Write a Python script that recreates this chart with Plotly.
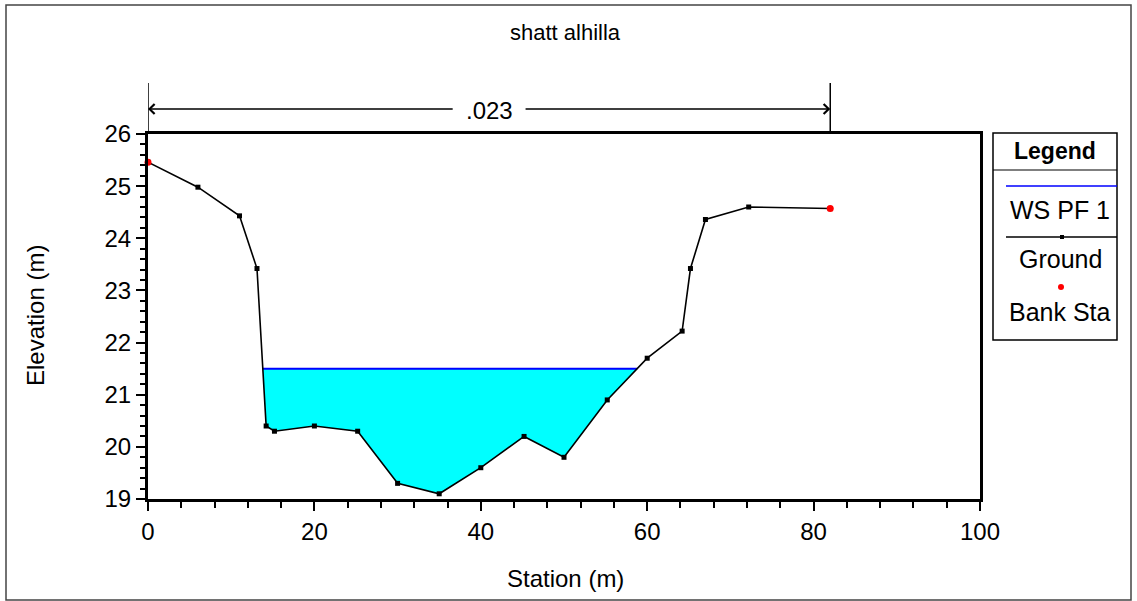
import plotly.graph_objects as go

# ---- data ----
ground_x = [0, 6, 11, 13.1, 14.2, 15.2, 20, 25.2, 30, 35, 40, 45.2, 50, 55.2, 60, 64.2, 65.2, 67, 72.2, 82]
ground_y = [25.46, 24.98, 24.43, 23.42, 20.40, 20.30, 20.40, 20.30, 19.30, 19.10, 19.60, 20.20,
            19.80, 20.90, 21.70, 22.22, 23.42, 24.36, 24.60, 24.57]
bank_x = [0, 82]
bank_y = [25.46, 24.57]
ws_elev = 21.5
n_value_label = ".023"
title_text = "shatt alhilla"
x_title = "Station (m)"
y_title = "Elevation (m)"
legend_items = ["WS PF 1", "Ground", "Bank Sta"]

# ---- geometry of the page (pixels) ----
W, H = 1137, 601
PL, PR, PT, PB = 148, 980, 134, 499


def px(x):
    return (x - PL) / (PR - PL)


def py(y):
    return (PB - y) / (PB - PT)


# water polygon from ground and WS elevation
poly_x, poly_y = [], []
wet_left = wet_right = None
for i in range(len(ground_x) - 1):
    x0, y0, x1, y1 = ground_x[i], ground_y[i], ground_x[i + 1], ground_y[i + 1]
    if y0 <= ws_elev:
        poly_x.append(x0); poly_y.append(y0)
    if (y0 - ws_elev) * (y1 - ws_elev) < 0:
        xc = x0 + (ws_elev - y0) * (x1 - x0) / (y1 - y0)
        poly_x.append(xc); poly_y.append(ws_elev)
        if wet_left is None:
            wet_left = xc
        else:
            wet_right = xc
poly_x.append(poly_x[0]); poly_y.append(poly_y[0])

FONT = "Arial, Liberation Sans, sans-serif"
fig = go.Figure()

fig.add_trace(go.Scatter(x=poly_x, y=poly_y, mode="lines", fill="toself",
                         fillcolor="#00FFFF", line=dict(width=0), hoverinfo="skip",
                         showlegend=False))
fig.add_trace(go.Scatter(x=[wet_left, wet_right], y=[ws_elev, ws_elev], mode="lines",
                         line=dict(color="#0000FF", width=2), name=legend_items[0],
                         showlegend=False))
fig.add_trace(go.Scatter(x=ground_x, y=ground_y, mode="lines+markers",
                         line=dict(color="black", width=1.6),
                         marker=dict(symbol="square", size=5, color="black"),
                         name=legend_items[1], showlegend=False, cliponaxis=False))
fig.add_trace(go.Scatter(x=bank_x, y=bank_y, mode="markers",
                         marker=dict(symbol="circle", size=7, color="#FF0000"),
                         name=legend_items[2], showlegend=False, cliponaxis=False))

axis_common = dict(showline=True, linewidth=3, linecolor="black", mirror=True,
                   ticks="outside", tickcolor="black", tickwidth=2, ticklen=9,
                   showgrid=False, zeroline=False,
                   tickfont=dict(family=FONT, size=24, color="black"))
fig.update_xaxes(range=[0, 100], dtick=20, tick0=0,
                 minor=dict(dtick=4, ticks="outside", ticklen=6, tickwidth=2, tickcolor="black",
                            showgrid=False),
                 **axis_common)
fig.update_yaxes(range=[19, 26], dtick=1, tick0=19,
                 minor=dict(dtick=0.2, ticks="outside", ticklen=5, tickwidth=2, tickcolor="black",
                            showgrid=False),
                 **axis_common)

shapes = []
annotations = []


def text_ann(x, y, text, size=24, **kw):
    d = dict(x=x, y=y, xref="paper", yref="paper", text=text, showarrow=False,
             xanchor="center", yanchor="middle",
             font=dict(family=FONT, size=size, color="black"))
    d.update(kw)
    return d


# outer border
shapes.append(dict(type="rect", xref="paper", yref="paper", x0=px(6), x1=px(1131),
                   y0=py(600), y1=py(5), line=dict(color="#444444", width=1.5)))

# n-value dimension lines
ytop_line = py(83)
for bx in bank_x:
    shapes.append(dict(type="line", xref="x", yref="paper", x0=bx, x1=bx, y0=1, y1=ytop_line,
                       line=dict(color="black", width=1.5)))
y_arrow = py(109)
mid = (bank_x[0] + bank_x[1]) / 2
gap = 4.2
for end, tail in [(bank_x[0], mid - gap), (bank_x[1], mid + gap)]:
    annotations.append(dict(x=end, y=y_arrow, xref="x", yref="paper", ax=tail, ay=0,
                            axref="x", ayref="pixel", showarrow=True, arrowhead=4,
                            arrowsize=1.3, arrowwidth=1.5, arrowcolor="black", text="",
                            standoff=0, startstandoff=0))
annotations.append(dict(x=mid, y=y_arrow, xref="x", yref="paper", text=n_value_label,
                        showarrow=False, xanchor="center", yanchor="middle", yshift=-2,
                        font=dict(family=FONT, size=24, color="black")))

# titles
annotations.append(text_ann(px(565), py(32), title_text, size=22))
annotations.append(text_ann(px(565), py(578), x_title))
annotations.append(text_ann(px(35), py(316), y_title, textangle=-90))

# custom legend
LX0, LX1, LY0, LY1 = 993, 1117, 133, 340
shapes.append(dict(type="rect", xref="paper", yref="paper", x0=px(LX0), x1=px(LX1),
                   y0=py(LY1), y1=py(LY0), line=dict(color="black", width=1.5),
                   fillcolor="white"))
shapes.append(dict(type="line", xref="paper", yref="paper", x0=px(LX0), x1=px(LX1),
                   y0=py(170), y1=py(170), line=dict(color="black", width=1.2)))
annotations.append(text_ann(px(1055), py(151), "<b>Legend</b>", size=23))
shapes.append(dict(type="line", xref="paper", yref="paper", x0=px(1006), x1=px(1117),
                   y0=py(186), y1=py(186), line=dict(color="#0000FF", width=1.5)))
shapes.append(dict(type="line", xref="paper", yref="paper", x0=px(1006), x1=px(1117),
                   y0=py(237), y1=py(237), line=dict(color="black", width=1.5)))
shapes.append(dict(type="rect", xref="paper", yref="paper", x0=px(1060), x1=px(1064),
                   y0=py(239), y1=py(235), line=dict(width=0), fillcolor="black"))
shapes.append(dict(type="circle", xref="paper", yref="paper", x0=px(1058), x1=px(1064),
                   y0=py(290), y1=py(284), line=dict(width=0), fillcolor="#FF0000"))
for label, yy in zip(legend_items, [210, 259, 312]):
    annotations.append(text_ann(px(1060), py(yy), label, size=25))

fig.update_layout(width=W, height=H, margin=dict(l=PL, r=W - PR, t=PT, b=H - PB),
                  paper_bgcolor="white", plot_bgcolor="white", showlegend=False,
                  shapes=shapes, annotations=annotations,
                  font=dict(family=FONT, size=24, color="black"))

fig.write_html("out.html", config={"displayModeBar": False},
               post_script="document.body.style.margin='0px';")
